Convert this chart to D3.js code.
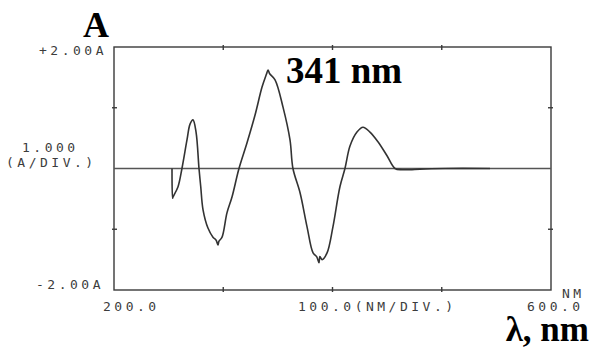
<!DOCTYPE html>
<html>
<head>
  <meta charset="utf-8">
  <title>Derivative spectrum</title>
  <style>
    body { margin: 0; background: #fff; }
    .mono { font-family: "DejaVu Sans Mono", monospace; font-size: 13px; fill: #3c3c3c; letter-spacing: 3.5px; }
    .big { font-family: "Liberation Serif", serif; font-weight: bold; fill: #000; }
  </style>
</head>
<body>
<script src="https://d3js.org/d3.v7.min.js"></script>
<svg id="c1" width="591" height="348"></svg>

<script>
    // spectrum (nm, A)
    var wavelength = [253.1, 253.6, 254.0, 258.6, 262.2, 266.8, 269.6, 272.3, 275.1, 277.8, 279.4, 281.5, 286.0, 290.6, 293.5, 295.2, 296.0, 298.9, 303.4, 308.0, 314.4, 321.7, 329.1, 335.5, 339.5, 341.0, 342.5, 347.4, 354.7, 361.1, 363.8, 370.3, 376.7, 382.2, 385.5, 387.6, 388.5, 390.5, 395.0, 400.4, 406.8, 411.4, 416.0, 422.4, 427.9, 434.3, 441.6, 449.9, 457.2, 463.6, 470.9, 480.1, 503.0, 544.2];
    var absorb     = [0.0,   -0.49, -0.47, -0.30, 0.0,   0.47,  0.73,  0.80,  0.60,  0.0,   -0.30, -0.68, -0.98, -1.13, -1.18, -1.26, -1.20, -1.13, -0.73, -0.47, 0.0,   0.42,  0.88,  1.34,  1.55,  1.62,  1.56,  1.46,  1.01,  0.47,  0.0,   -0.40, -0.96, -1.39, -1.45, -1.55, -1.45, -1.50, -1.39, -0.96, -0.30, 0.0,   0.37,  0.60,  0.68,  0.60,  0.44,  0.21,  0.0,   -0.02, -0.02, -0.01, 0.0,   0.0];

    var xTicks = [300, 400, 500];
    var yTicks = [-1, 1];
    var yLabelTop = "+2.00A";
    var yLabelBottom = "-2.00A";
    var yScaleLabel = ["1.000", "(A/DIV.)"];
    var xLabelLeft = "200.0";
    var xLabelMid = "100.0(NM/DIV.)";
    var xLabelRight = "600.0";
    var xUnit = "NM";

    var svg = d3.select("#c1");

    var x = d3.scaleLinear().domain([200, 600]).range([114, 551]);
    var y = d3.scaleLinear().domain([-2, 2]).range([290, 47]);

    var ink = "#3a3a3a";

    // frame
    svg.append("rect")
        .attr("x", x(200)).attr("y", y(2))
        .attr("width", x(600) - x(200)).attr("height", y(-2) - y(2))
        .attr("fill", "none").attr("stroke", ink).attr("stroke-width", 1.4);

    // ticks on the frame
    xTicks.forEach(function(t) {
        svg.append("line").attr("x1", x(t)).attr("x2", x(t))
            .attr("y1", y(2) - 2).attr("y2", y(2) + 3)
            .attr("stroke", ink).attr("stroke-width", 1.4);
        svg.append("line").attr("x1", x(t)).attr("x2", x(t))
            .attr("y1", y(-2) + 2).attr("y2", y(-2) - 3)
            .attr("stroke", ink).attr("stroke-width", 1.4);
    });
    yTicks.forEach(function(t) {
        svg.append("line").attr("x1", x(200) - 2).attr("x2", x(200) + 3)
            .attr("y1", y(t)).attr("y2", y(t))
            .attr("stroke", ink).attr("stroke-width", 1.4);
        svg.append("line").attr("x1", x(600) + 2).attr("x2", x(600) - 3)
            .attr("y1", y(t)).attr("y2", y(t))
            .attr("stroke", ink).attr("stroke-width", 1.4);
    });

    // zero line
    svg.append("line")
        .attr("x1", x(200)).attr("x2", x(600))
        .attr("y1", y(0)).attr("y2", y(0))
        .attr("stroke", "#555").attr("stroke-width", 1.3);

    // spectrum
    var pts = wavelength.map(function(w, i) { return [w, absorb[i]]; });
    var line = d3.line()
        .x(function(d) { return x(d[0]); })
        .y(function(d) { return y(d[1]); })
        .curve(d3.curveCatmullRom.alpha(0.5));

    svg.append("path")
        .datum(pts)
        .attr("fill", "none")
        .attr("stroke", "#333")
        .attr("stroke-width", 1.6)
        .attr("d", line);

    // instrument labels
    svg.append("text").attr("class", "mono").attr("text-anchor", "end")
        .attr("x", 107).attr("y", 55).text(yLabelTop);
    svg.append("text").attr("class", "mono").attr("text-anchor", "end")
        .attr("x", 104).attr("y", 289).text(yLabelBottom);
    svg.append("text").attr("class", "mono")
        .attr("x", 22).attr("y", 152).text(yScaleLabel[0]);
    svg.append("text").attr("class", "mono")
        .attr("x", 6).attr("y", 167).text(yScaleLabel[1]);
    svg.append("text").attr("class", "mono")
        .attr("x", 103).attr("y", 311).text(xLabelLeft);
    svg.append("text").attr("class", "mono")
        .attr("x", 298).attr("y", 311).text(xLabelMid);
    svg.append("text").attr("class", "mono")
        .attr("x", 527).attr("y", 311).text(xLabelRight);
    svg.append("text").attr("class", "mono")
        .attr("x", 562).attr("y", 298).text(xUnit);

    // annotations
    svg.append("text").attr("class", "big").style("font-size", "36px")
        .attr("x", 83).attr("y", 37).text("A");
    svg.append("text").attr("class", "big").style("font-size", "37px")
        .attr("x", 286).attr("y", 83).text("341 nm");
    svg.append("text").attr("class", "big").style("font-size", "35px")
        .attr("text-anchor", "end")
        .attr("x", 589).attr("y", 341).text("λ, nm");
</script>
</body>
</html>
